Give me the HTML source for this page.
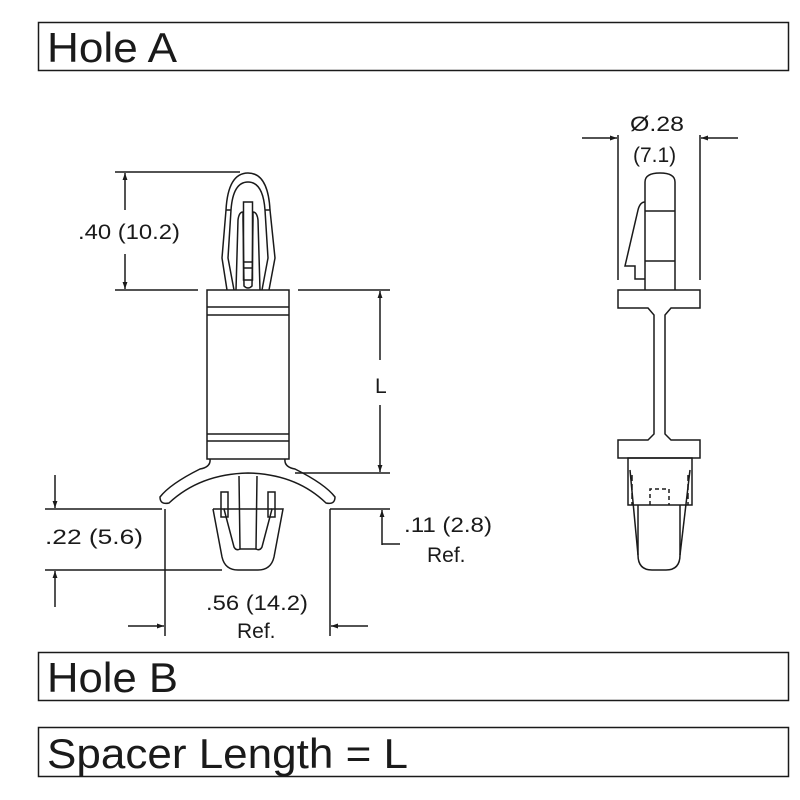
<!DOCTYPE html>
<html><head><style>
html,body{margin:0;padding:0;background:#fff;}
svg{display:block;}
text{font-family:"Liberation Sans",Arial,sans-serif;fill:#1a1a1a;}
</style></head><body>
<svg width="800" height="800" viewBox="0 0 800 800" xmlns="http://www.w3.org/2000/svg">
<defs>
<marker id="ah" viewBox="0 0 10 10" refX="10" refY="5" markerWidth="11" markerHeight="7" orient="auto-start-reverse" markerUnits="userSpaceOnUse">
<path d="M0,1.5 L10,5 L0,8.5 z" fill="#1a1a1a"/></marker>
</defs>
<g fill="none" stroke="#1a1a1a" stroke-width="1.5">
<rect x="38.5" y="22.5" width="750" height="48"/>
<rect x="38.5" y="652.5" width="750" height="48"/>
<rect x="38.5" y="727.5" width="750" height="49"/>
</g>
<text x="47" y="62" font-size="42" textLength="130" lengthAdjust="spacingAndGlyphs">Hole A</text>
<text x="47" y="692" font-size="42" textLength="131" lengthAdjust="spacingAndGlyphs">Hole B</text>
<text x="47" y="768" font-size="42" textLength="361" lengthAdjust="spacingAndGlyphs">Spacer Length = L</text>

<g fill="none" stroke="#1a1a1a" stroke-width="1.5">
<line x1="115" y1="172" x2="240" y2="172"/>
<line x1="115" y1="290" x2="198" y2="290"/>
<line x1="298" y1="290" x2="390" y2="290"/>
<line x1="125" y1="210" x2="125" y2="173" marker-end="url(#ah)"/>
<line x1="125" y1="254" x2="125" y2="289" marker-end="url(#ah)"/>
<line x1="380" y1="360" x2="380" y2="291" marker-end="url(#ah)"/>
<line x1="380" y1="405" x2="380" y2="472" marker-end="url(#ah)"/>
<line x1="295" y1="473" x2="390" y2="473"/>
<line x1="330" y1="509" x2="390" y2="509"/>
<line x1="45" y1="509" x2="162" y2="509"/>
<line x1="45" y1="570" x2="222" y2="570"/>
<line x1="55" y1="475" x2="55" y2="508" marker-end="url(#ah)"/>
<line x1="55" y1="607" x2="55" y2="571" marker-end="url(#ah)"/>
<line x1="382" y1="545" x2="382" y2="510" marker-end="url(#ah)"/>
<polyline points="382,544 400,544"/>
<line x1="165" y1="509" x2="165" y2="636"/>
<line x1="330" y1="509" x2="330" y2="636"/>
<line x1="128" y1="626" x2="164" y2="626" marker-end="url(#ah)"/>
<line x1="368" y1="626" x2="331" y2="626" marker-end="url(#ah)"/>

<path d="M227,290 L222,258 L226,210 Q228,173 248,173 Q268,173 270,210 L275,258 L269,290"/>
<path d="M231,210 Q233,182 248,182 Q263,182 265,210"/>
<line x1="226" y1="210" x2="231" y2="210"/><line x1="265" y1="210" x2="270" y2="210"/>
<path d="M231,210 L228,258 L234,290"/><path d="M265,210 L268,258 L262,290"/>
<path d="M236,290 L238,220 Q239,212 243,212 L243,220 L244,286 Q248,290 252,286 L253,220 L253,212 Q257,212 258,220 L260,290"/>
<rect x="243.5" y="202" width="9" height="78"/>
<line x1="243" y1="262" x2="253" y2="262"/><line x1="243" y1="268" x2="253" y2="268"/>
<rect x="207" y="290" width="82" height="169"/>
<line x1="207" y1="307" x2="289" y2="307"/><line x1="207" y1="315" x2="289" y2="315"/>
<line x1="207" y1="434" x2="289" y2="434"/><line x1="207" y1="441" x2="289" y2="441"/>
<path d="M210,459 Q211,467 200,469 Q170,484 160,497 Q160,505 169,503 Q200,474 248,473 Q296,474 326,503 Q335,505 335,497 Q325,484 295,469 Q284,467 285,459"/>
<path d="M213,509 L222,557 Q225,570 238,570 L258,570 Q271,570 274,557 L283,509 L272,509 L262,547 Q260,551 256,549 L257,476"/>
<path d="M213,509 L224,509 L234,547 Q236,551 240,549 L239,476"/>
<rect x="221" y="492" width="7" height="25"/><rect x="268" y="492" width="7" height="25"/>
<line x1="240" y1="549" x2="256" y2="549"/>
<line x1="224" y1="509" x2="272" y2="509"/>

<line x1="618" y1="135" x2="618" y2="280"/><line x1="700" y1="135" x2="700" y2="280"/>
<line x1="582" y1="138" x2="617" y2="138" marker-end="url(#ah)"/>
<line x1="738" y1="138" x2="701" y2="138" marker-end="url(#ah)"/>
<path d="M645,290 L645,182 Q645,173 660,173 Q675,173 675,182 L675,290"/>
<line x1="645" y1="211" x2="675" y2="211"/><line x1="645" y1="261" x2="675" y2="261"/>
<path d="M645,202 Q640,202 638,210 L625,266 L635,266 L635,279 L645,279"/>
<path d="M618,290 L700,290 L700,308 L671,308 L665,315 L665,434 L671,440 L700,440 L700,458 L618,458 L618,440 L648,440 L654,434 L654,315 L648,308 L618,308 Z"/>
<rect x="628" y="458" width="64" height="47"/>
<path d="M638,505 L638,555 Q638,570 652,570 L666,570 Q680,570 680,555 L680,505"/>
<path d="M630,470 L638,555"/><path d="M690,470 L680,555"/>
<path d="M650,505 L650,489 L669,489 L669,505" stroke-dasharray="4,3"/>
<line x1="632" y1="475" x2="632" y2="505" stroke-dasharray="6,3"/>
<line x1="688" y1="475" x2="688" y2="505" stroke-dasharray="6,3"/>
</g>

<g font-size="21">
<text x="78" y="239" textLength="102" lengthAdjust="spacingAndGlyphs">.40 (10.2)</text>
<text x="375" y="393">L</text>
<text x="45" y="544" textLength="98" lengthAdjust="spacingAndGlyphs">.22 (5.6)</text>
<text x="404" y="532" textLength="88" lengthAdjust="spacingAndGlyphs">.11 (2.8)</text>
<text x="427" y="562">Ref.</text>
<text x="206" y="610" textLength="102" lengthAdjust="spacingAndGlyphs">.56 (14.2)</text>
<text x="237" y="638">Ref.</text>
<text x="630" y="131" textLength="54" lengthAdjust="spacingAndGlyphs">Ø.28</text>
<text x="633" y="162">(7.1)</text>
</g>
</svg>
</body></html>
